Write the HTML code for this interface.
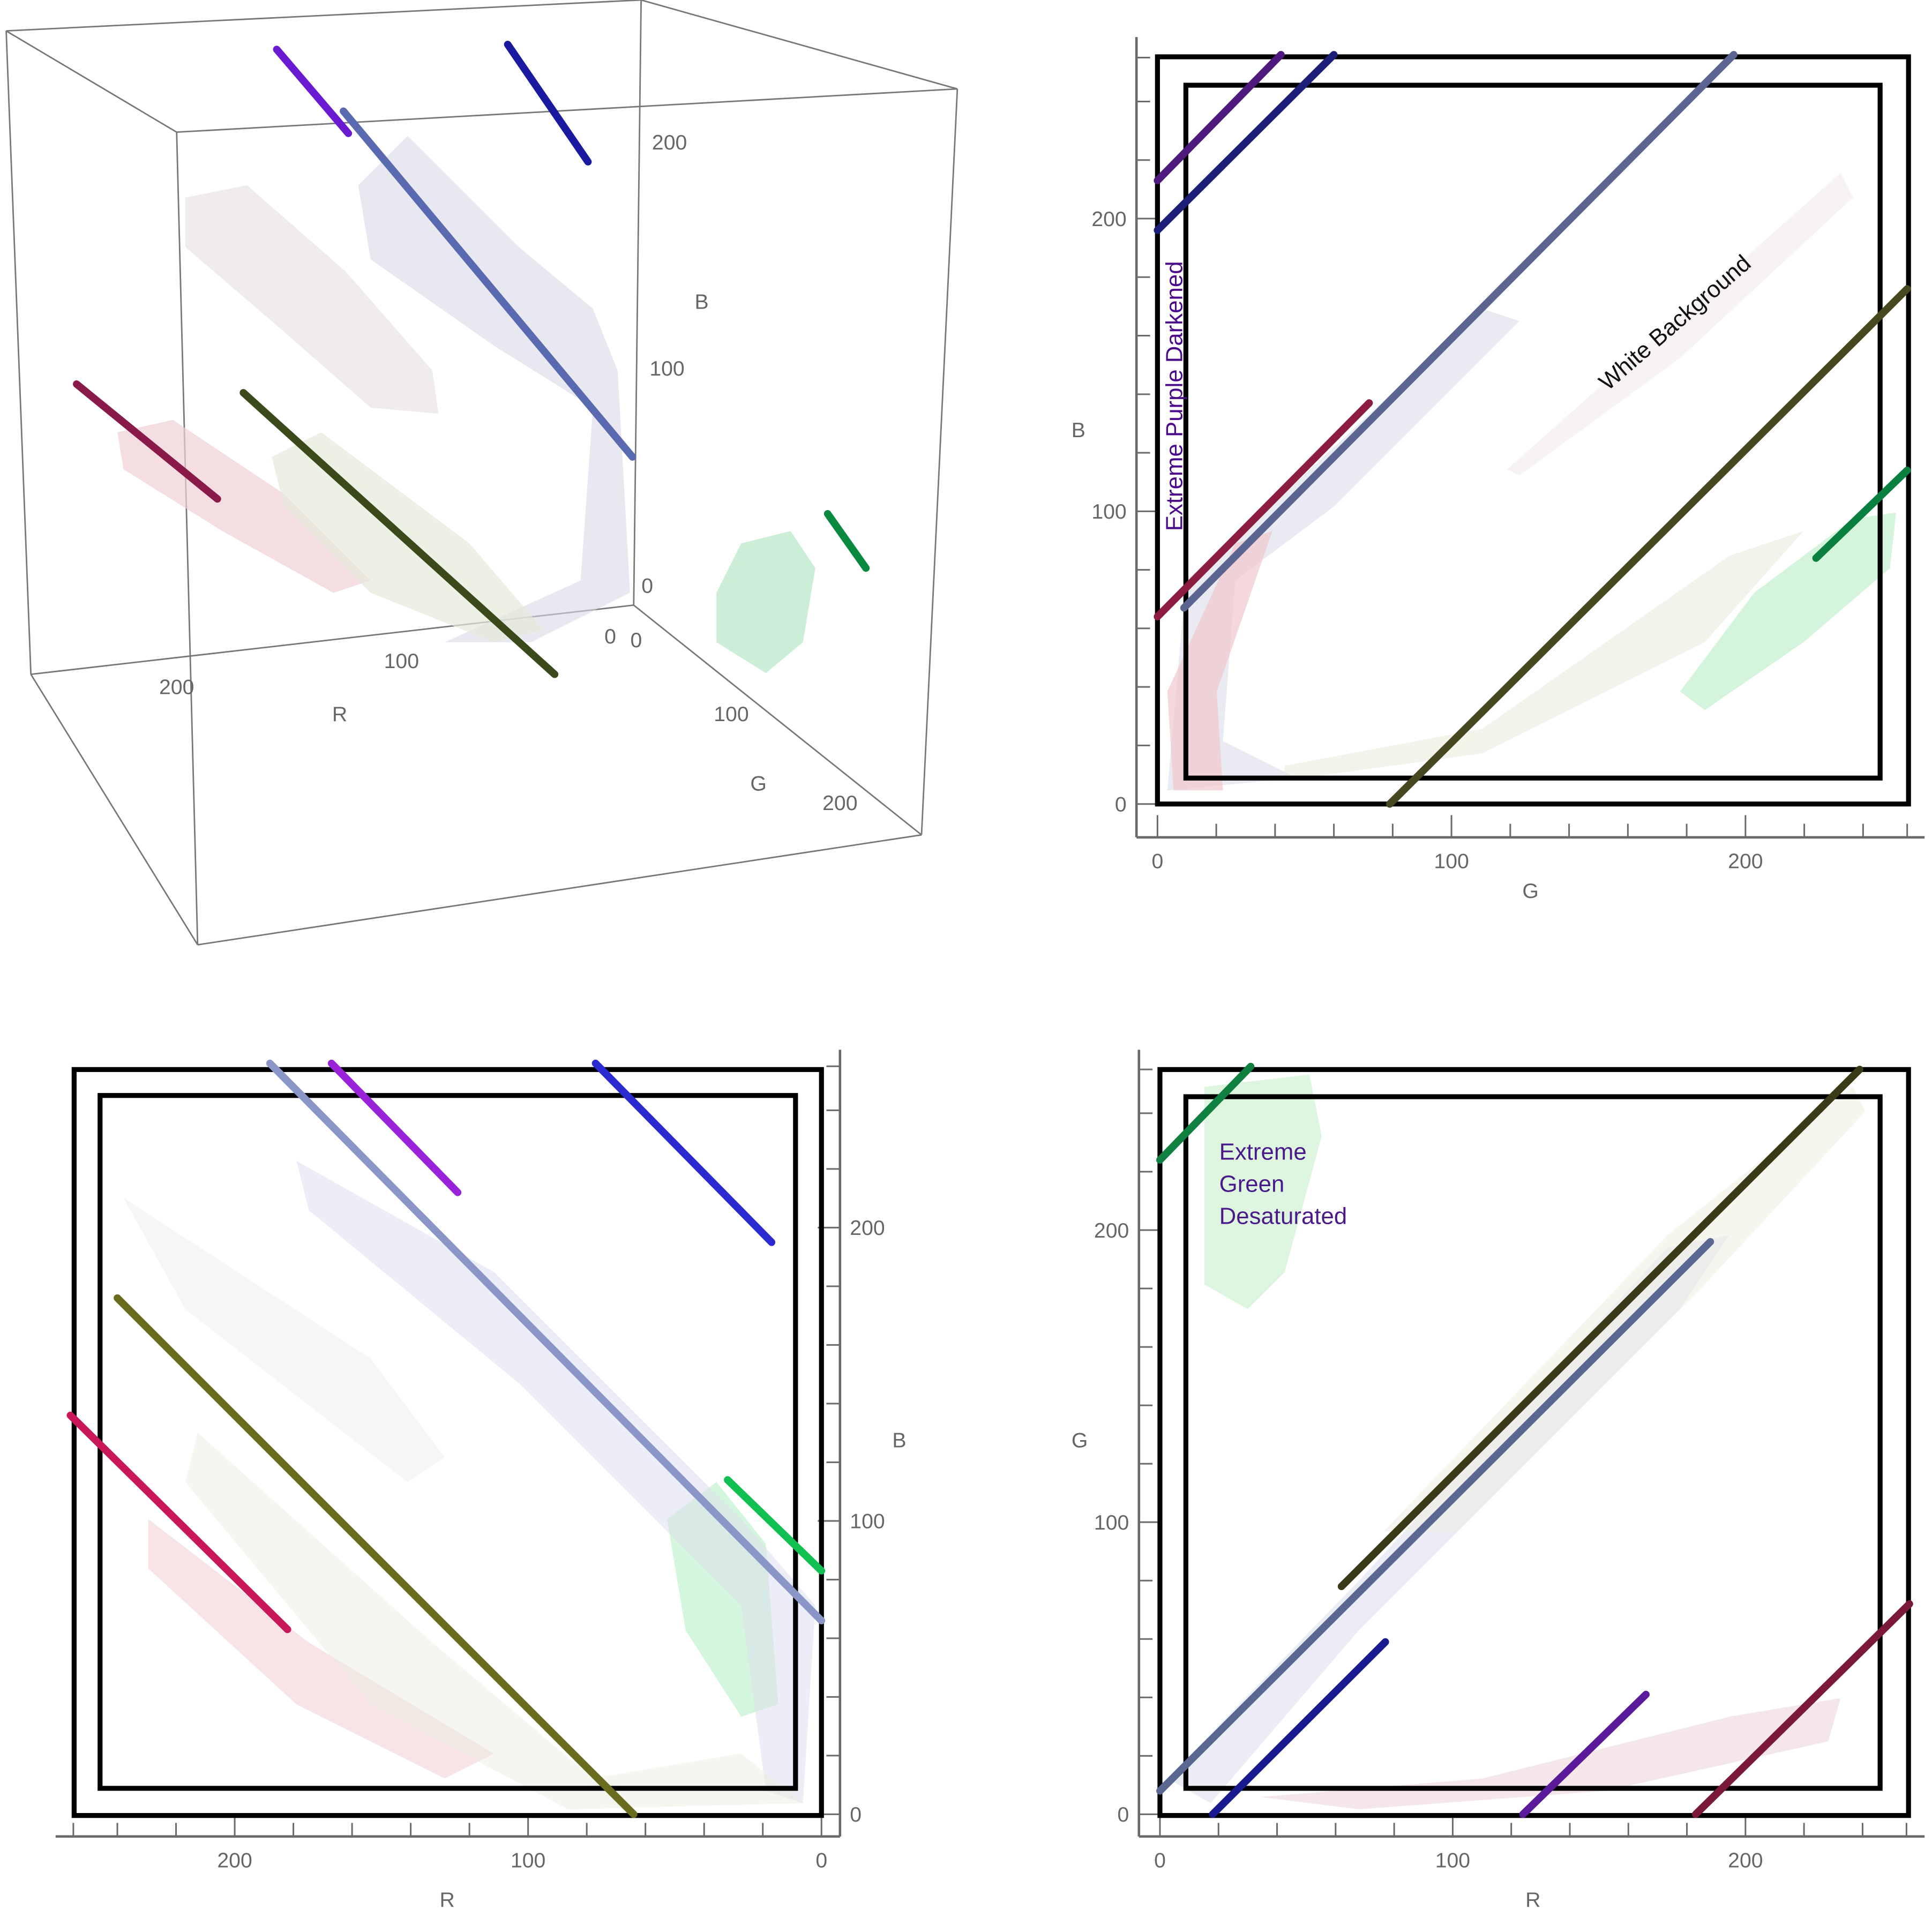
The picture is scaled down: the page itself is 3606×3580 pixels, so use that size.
<!DOCTYPE html>
<html><head><meta charset="utf-8"><style>
html,body{margin:0;padding:0;background:#fff;}
svg{display:block;}
text{font-family:"Liberation Sans",sans-serif;}
</style></head><body>
<svg id="chart" xmlns="http://www.w3.org/2000/svg" width="3606" height="3580" viewBox="0 0 1564 1553" preserveAspectRatio="none">
<g id="p3d"></g>
<g id="pGB"></g>
<g id="pRB"></g>
<g id="pRG"></g>
</svg>
<script>
// ---- data (channel values 0-255) ----
const tickValues = [0,100,200];
const minorTicks = [0,20,40,60,80,100,120,140,160,180,200,220,240,255];
// G-B panel segments: [g,b]
const gbNames = ['purple','dark-blue','slate','crimson','olive','green'];
const gbColors = ['#4f1a7e','#1c1f78','#5a6590','#8c1c40','#474720','#0a8040'];
const gbStart = [[0,213],[0,196],[9,67],[0,64],[79,0],[224,84]];
const gbEnd = [[42,256],[60,256],[196,256],[72,137],[255,176],[255,114]];
// R-B panel segments: [r,b]
const rbNames = ['slate','violet','blue','olive','crimson','green'];
const rbColors = ['#8a96c8','#9a22d8','#2a2ad0','#6b6b20','#c8185a','#10c050'];
const rbStart = [[188,256],[167,256],[77,256],[240,176],[256,136],[32,114]];
const rbEnd = [[0,66],[124,212],[17,195],[64,0],[182,63],[0,83]];
// R-G panel segments: [r,g]
const rgNames = ['green','olive','slate','dark-blue','purple','crimson'];
const rgColors = ['#108040','#3a3a18','#5a6790','#1a1a90','#5a1a9a','#7a1a38'];
const rgStart = [[0,224],[62,78],[0,8],[18,0],[124,0],[183,0]];
const rgEnd = [[31,256],[239,255],[188,196],[77,59],[166,41],[256,72]];

const NS='http://www.w3.org/2000/svg';
function mk(parent,tag,attrs){const e=document.createElementNS(NS,tag);for(const k in attrs)e.setAttribute(k,attrs[k]);parent.appendChild(e);return e;}

// axis functions
const gbX=v=>937+v*2.38, gbY=v=>651-v*2.37;
const rbX=v=>665-v*2.375, rbY=v=>1469-v*2.375;
const rgX=v=>939+v*2.37, rgY=v=>1469-v*2.365;

function blob(g,pts,fill,op){
  const p=mk(g,'polygon',{points:pts.map(q=>q.join(',')).join(' '),fill:fill,opacity:op});
  
  
}

function panel(g,fx,fy,ax,names,colors,starts,ends,outer,inner,xlab,ylab){
  const gray='#6a6a6a';
  minorTicks.forEach(v=>{
    const maj=tickValues.indexOf(v)>=0;
    const t1=mk(g,'line',{x1:fx(v),y1:ax.y0,x2:fx(v),y2:ax.y0-(maj?18:11),stroke:gray,'stroke-width':1.3});
    
    const t2=mk(g,'line',{x1:ax.x0,y1:fy(v),x2:ax.x0+ax.dir*(maj?18:11),y2:fy(v),stroke:gray,'stroke-width':1.3});
    
  });
  tickValues.forEach(v=>{
    const a=mk(g,'text',{x:fx(v),y:ax.y0+25,'font-size':17,fill:'#666','text-anchor':'middle'});
    a.textContent=v;
    const b=mk(g,'text',{x:ax.x0-ax.dir*8,y:fy(v)+6,'font-size':17,fill:'#666','text-anchor':ax.dir>0?'end':'start'});
    b.textContent=v;
  });
  const xl=mk(g,'text',{x:xlab[0],y:xlab[1],'font-size':17,fill:'#666','text-anchor':'middle'});xl.textContent=xlab[2];
  
  const yl=mk(g,'text',{x:ylab[0],y:ylab[1],'font-size':17,fill:'#666','text-anchor':'middle'});yl.textContent=ylab[2];
  
  const o=mk(g,'rect',{x:outer[0],y:outer[1],width:outer[2]-outer[0],height:outer[3]-outer[1],fill:'none',stroke:'#000','stroke-width':4});
  
  const i=mk(g,'rect',{x:inner[0],y:inner[1],width:inner[2]-inner[0],height:inner[3]-inner[1],fill:'none',stroke:'#000','stroke-width':4});
  
  for(let k=0;k<names.length;k++){
    const l=mk(g,'line',{x1:fx(starts[k][0]),y1:fy(starts[k][1]),x2:fx(ends[k][0]),y2:fy(ends[k][1]),stroke:colors[k],'stroke-width':6,'stroke-linecap':'round'});
    
    
  }
}

// ---- G-B panel ----
const gGB=document.getElementById('pGB');
blob(gGB,[[1360,560],[1420,480],[1500,420],[1535,415],[1530,460],[1460,520],[1380,575]],'#b8ecc4',0.6);
blob(gGB,[[945,640],[960,470],[1050,390],[1200,250],[1230,260],[1080,410],[1000,470],[990,600],[1050,630]],'#d8d8ea',0.55);
blob(gGB,[[1040,620],[1200,590],[1400,450],[1460,430],[1380,520],[1200,610],[1040,632]],'#e6ead8',0.5);
blob(gGB,[[1220,380],[1400,220],[1490,140],[1500,160],[1360,290],[1230,385]],'#efe8e8',0.5);
blob(gGB,[[945,560],[1000,440],[1030,430],[985,560],[990,640],[950,640]],'#f0c8cc',0.7);
panel(gGB,gbX,gbY,{y0:678,x0:920,dir:1},gbNames,gbColors,gbStart,gbEnd,[937,46,1545,651],[960,69,1522,630],[1239,727,'G'],[873,354,'B']);
mk(gGB,'line',{x1:920,y1:30,x2:920,y2:678,stroke:'#6a6a6a','stroke-width':2});
mk(gGB,'line',{x1:920,y1:678,x2:1558,y2:678,stroke:'#6a6a6a','stroke-width':2});
(function(){
  const t=mk(gGB,'text',{x:0,y:0,'font-size':19,fill:'#4b0a8a',transform:'translate(957,430) rotate(-90)'});
  t.textContent='Extreme Purple Darkened';
  const w=mk(gGB,'text',{x:0,y:0,'font-size':19,fill:'#111','text-anchor':'middle',transform:'translate(1360,266) rotate(-41)'});
  w.textContent='White Background';
})();

// ---- R-B panel ----
const gRB=document.getElementById('pRB');
blob(gRB,[[540,1230],[580,1200],[620,1250],[630,1380],[600,1390],[555,1320]],'#b8f0c4',0.6);
blob(gRB,[[240,940],[400,1030],[600,1230],[660,1300],[650,1460],[620,1450],[600,1300],[420,1120],[250,980]],'#dcdcf0',0.5);
blob(gRB,[[120,1230],[250,1330],[400,1420],[360,1440],[240,1380],[120,1270]],'#f4d0d6',0.6);
blob(gRB,[[160,1160],[350,1330],[480,1440],[600,1420],[650,1460],[460,1465],[300,1380],[150,1200]],'#eceee0',0.5);
blob(gRB,[[100,970],[300,1100],[360,1180],[330,1200],[150,1060]],'#efecec',0.5);
panel(gRB,rbX,rbY,{y0:1487,x0:680,dir:-1},rbNames,rbColors,rbStart,rbEnd,[60,866,665,1470],[81,887,644,1448],[362,1544,'R'],[728,1172,'B']);
mk(gRB,'line',{x1:680,y1:850,x2:680,y2:1487,stroke:'#6a6a6a','stroke-width':2});
mk(gRB,'line',{x1:45,y1:1487,x2:680,y2:1487,stroke:'#6a6a6a','stroke-width':2});

// ---- R-G panel ----
const gRG=document.getElementById('pRG');
blob(gRG,[[975,880],[1060,870],[1070,920],[1040,1030],[1010,1060],[975,1040]],'#c8f0cc',0.6);
blob(gRG,[[945,1440],[1100,1280],[1350,1010],[1400,1000],[1360,1060],[1100,1320],[980,1460]],'#dcdcf0',0.55);
blob(gRG,[[1020,1455],[1200,1440],[1400,1390],[1490,1375],[1480,1410],[1300,1450],[1100,1465]],'#efd6da',0.6);
blob(gRG,[[1120,1240],[1350,1000],[1500,880],[1510,900],[1380,1040],[1180,1240]],'#eeeee0',0.5);
panel(gRG,rgX,rgY,{y0:1487,x0:922,dir:1},rgNames,rgColors,rgStart,rgEnd,[939,866,1545,1470],[960,888,1522,1448],[1241,1544,'R'],[874,1172,'G']);
mk(gRG,'line',{x1:922,y1:850,x2:922,y2:1487,stroke:'#6a6a6a','stroke-width':2});
mk(gRG,'line',{x1:922,y1:1487,x2:1558,y2:1487,stroke:'#6a6a6a','stroke-width':2});
['Extreme','Green','Desaturated'].forEach((s,k)=>{
  const t=mk(gRG,'text',{x:987,y:939+k*26,'font-size':19,fill:'#4b1a8a'});
  t.textContent=s;
});

// ---- 3D panel (projected) ----
const g3=document.getElementById('p3d');
const cubeEdges=[[5,25,143,107],[143,107,775,72],[775,72,519,0],[5,25,519,0],[143,107,160,765],[775,72,746,676],[160,765,746,676],[25,546,160,765],[5,25,25,546],[519,0,513,490],[25,546,513,490],[513,490,746,676]];
cubeEdges.forEach(e=>{const l=mk(g3,'line',{x1:e[0],y1:e[1],x2:e[2],y2:e[3],stroke:'#777','stroke-width':1.2});});
blob(g3,[[150,160],[200,150],[280,220],[350,300],[355,335],[300,330],[220,260],[150,200]],'#e6e0e0',0.6);
blob(g3,[[290,150],[330,110],[420,200],[480,250],[500,300],[510,480],[430,520],[360,520],[470,470],[480,330],[400,280],[300,210]],'#d8d8e6',0.6);
blob(g3,[[95,350],[140,340],[230,400],[300,470],[270,480],[180,430],[100,380]],'#f0d0d6',0.7);
blob(g3,[[220,370],[260,350],[380,440],[440,510],[400,520],[300,480],[230,410]],'#e6ead8',0.7);
blob(g3,[[580,480],[600,440],[640,430],[660,460],[650,520],[620,545],[580,520]],'#bfe8cc',0.8);
const rTicks=[[143,556,'200'],[325,535,'100'],[494,515,'0'],[515,518,'0'],[592,578,'100'],[680,650,'200'],[542,115,'200'],[540,298,'100'],[524,474,'0']];
rTicks.forEach(t=>{const e=mk(g3,'text',{x:t[0],y:t[1]+6,'font-size':17,fill:'#666','text-anchor':'middle'});e.textContent=t[2];});
[[568,250,'B'],[275,584,'R'],[614,640,'G']].forEach(t=>{const e=mk(g3,'text',{x:t[0],y:t[1],'font-size':17,fill:'#666','text-anchor':'middle'});e.textContent=t[2];});
const seg3=[[224,40,282,108,'#6a1ad0'],[411,36,476,131,'#1a1aa0'],[278,90,512,370,'#5a6ab0'],[62,311,176,404,'#8a1a4a'],[197,318,449,546,'#3a4a1a'],[670,416,701,460,'#0a8a40']];
seg3.forEach(s=>{const l=mk(g3,'line',{x1:s[0],y1:s[1],x2:s[2],y2:s[3],stroke:s[4],'stroke-width':6,'stroke-linecap':'round'});});
</script>
</body></html>
